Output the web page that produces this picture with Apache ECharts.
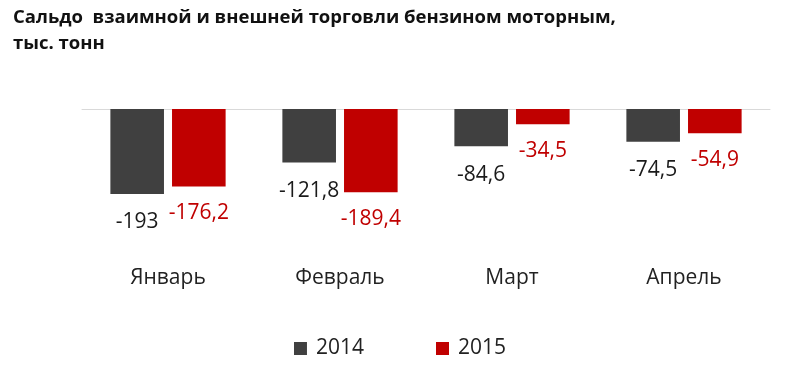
<!DOCTYPE html>
<html><head><meta charset="utf-8">
<script src="https://cdn.jsdelivr.net/npm/echarts@6/dist/echarts.min.js"></script>
<style>html,body{margin:0;padding:0;background:#fff}#c{width:800px;height:384px}</style>
</head><body><div id="c"></div>
<script>
const categories = ['Январь', 'Февраль', 'Март', 'Апрель'];
const values2014 = [-193, -121.8, -84.6, -74.5];
const values2015 = [-176.2, -189.4, -34.5, -54.9];
const seriesNames = ['2014', '2015'];
const titleText = 'Сальдо  взаимной и внешней торговли бензином моторным,\nтыс. тонн';

const fmt = v => String(v).replace('.', ',');
const chart = echarts.init(document.getElementById('c'));
chart.setOption({
  animation: false,
  title: {
    text: titleText, left: 8, top: 0,
    textStyle: { fontFamily: 'Open Sans', fontWeight: 'bold', fontSize: 18.5, lineHeight: 26, color: '#111' }
  },
  legend: {
    data: seriesNames, bottom: 20, left: 'center', itemWidth: 13, itemHeight: 13, itemGap: 72,
    icon: 'rect',
    textStyle: { fontFamily: 'Open Sans', fontSize: 21, color: '#222', padding: [0, 0, 0, 4] }
  },
  grid: { left: 82, right: 30, top: 109, height: 132 },
  xAxis: [
    { type: 'category', data: categories, position: 'top',
      axisLine: { lineStyle: { color: '#d9d9d9', width: 1 } }, axisTick: { show: false }, axisLabel: { show: false } },
    { type: 'category', data: categories, position: 'bottom',
      axisLine: { show: false }, axisTick: { show: false },
      axisLabel: { margin: 27, fontFamily: 'Open Sans', fontSize: 21, color: '#222' } }
  ],
  yAxis: { type: 'value', min: -300, max: 0, show: false, splitLine: { show: false } },
  series: [
    { name: seriesNames[0], type: 'bar', data: values2014, barGap: '15%', barCategoryGap: '33%',
      itemStyle: { color: '#404040' },
      label: { show: true, position: 'bottom', distance: 18, formatter: p => fmt(p.value),
        fontFamily: 'Open Sans', fontSize: 21, color: '#1a1a1a' } },
    { name: seriesNames[1], type: 'bar', data: values2015,
      itemStyle: { color: '#c00000' },
      label: { show: true, position: 'bottom', distance: 16, formatter: p => fmt(p.value),
        fontFamily: 'Open Sans', fontSize: 21, color: '#c00000' } }
  ]
});
</script></body></html>
